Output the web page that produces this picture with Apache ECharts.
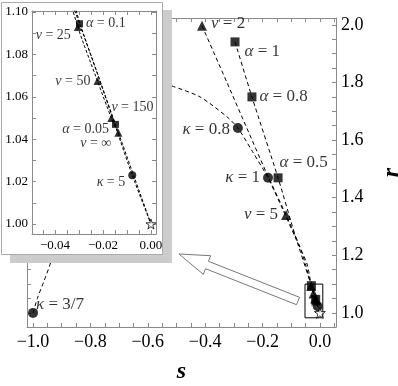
<!DOCTYPE html>
<html>
<head>
<meta charset="utf-8">
<script src="https://cdn.jsdelivr.net/npm/echarts@6/dist/echarts.min.js"></script>
<style>
html, body { margin: 0; padding: 0; background: #fff; }
#chart { width: 398px; height: 386px; }
</style>
</head>
<body>
<div id="chart"></div>
<script>
// dashed curves (s on x, r on y)
var kappaLineS = [-1.0, -0.985, -0.962, -0.941, -0.90, -0.85, -0.78, -0.70, -0.62, -0.56, -0.516, -0.418, -0.324, -0.286, -0.235, -0.181, -0.13, -0.085, -0.045, -0.031, -0.022, -0.0145, -0.0078, 0.0];
var kappaLineR = [1.0, 1.05, 1.11, 1.167, 1.30, 1.44, 1.60, 1.72, 1.79, 1.80, 1.788, 1.750, 1.681, 1.642, 1.56, 1.469, 1.36, 1.26, 1.17, 1.10, 1.07, 1.045, 1.023, 1.0];
var nuLineS = [-0.411, -0.324, -0.254, -0.188, -0.118, -0.07, -0.048, -0.0305, -0.0223, -0.0165, -0.0136];
var nuLineR = [1.997, 1.80, 1.64, 1.49, 1.340, 1.23, 1.16, 1.093, 1.0675, 1.050, 1.043];
var alphaLineS = [-0.296, -0.237, -0.146, -0.087, -0.0298, -0.0148, 0.0];
var alphaLineR = [1.941, 1.750, 1.469, 1.271, 1.0945, 1.047, 1.0];

// labelled points
var nuS = [-0.411, -0.118, -0.0305, -0.0223, -0.0165, -0.0136];
var nuR = [1.997, 1.340, 1.093, 1.0675, 1.050, 1.043];
var nuNames = ['2', '5', '25', '50', '150', '∞'];
var alphaS = [-0.296, -0.237, -0.146, -0.0298, -0.0148];
var alphaR = [1.941, 1.750, 1.469, 1.0945, 1.047];
var alphaNames = ['1', '0.8', '0.5', '0.1', '0.05'];
var kappaS = [-1.0, -0.286, -0.181, -0.0078];
var kappaR = [1.0, 1.642, 1.469, 1.023];
var kappaNames = ['3/7', '0.8', '1', '5'];
var starS = [0.0];
var starR = [1.0];

// ticks
var mainXTicks = [-1.0, -0.8, -0.6, -0.4, -0.2, 0.0];
var mainYTicks = [1.0, 1.2, 1.4, 1.6, 1.8, 2.0];
var insetXTicks = [-0.04, -0.02, 0.0];
var insetYTicks = [1.00, 1.02, 1.04, 1.06, 1.08, 1.10];

// where the labels sit: [position, offset], null = no label
var nuMainPlace = [['right', [1, -2]], ['left', [0, 0]], null, null, null, null];
var nuInsetPlace = [null, null, ['left', [0, 8]], ['left', [0, 0]], ['right', [-7, -11]], ['left', [0, 10]]];
var alphaMainPlace = [['right', [2, 10]], ['right', [0, 0]], ['right', [-6, -15]], null, null];
var alphaInsetPlace = [null, null, null, ['right', [0, 0]], ['left', [0, 5]]];
var kappaMainPlace = [['right', [-5, -8]], ['left', [0, 2]], ['left', [0, 0]], null];
var kappaInsetPlace = [null, null, null, ['left', [0, 7]]];

var FONT = '"Liberation Serif", "DejaVu Serif", serif';
var STAR = 'path://M50,0 L61,35 L98,35 L68,57 L79,91 L50,70 L21,91 L32,57 L2,35 L39,35 Z';

function steps(a, b, st) {
    var out = [];
    var n = Math.round((b - a) / st);
    for (var i = 0; i <= n; i++) out.push(+(a + i * st).toFixed(4));
    return out;
}
function minus(d) {
    return function (v) { return (v < -1e-9 ? '\u2212' : '') + Math.abs(v).toFixed(d); };
}
function pairs(S, R) { return S.map(function (s, i) { return [s, R[i]]; }); }
function pts(S, R, names, places) {
    return S.map(function (s, i) {
        var it = { value: [s, R[i]], name: names[i] };
        if (places && places[i]) it.label = { show: true, position: places[i][0], offset: places[i][1] };
        return it;
    });
}

function frameAxis(grid, pos, min, max, ticks, labels, fmt, size, margin, z) {
    return {
        type: 'value', gridIndex: grid, position: pos, min: min, max: max, z: z,
        axisLine: { show: true, onZero: false, lineStyle: { color: '#8a8a8a', width: 1 } },
        axisTick: { show: true, inside: true, length: 4, customValues: ticks, lineStyle: { color: '#8a8a8a' } },
        axisLabel: labels ? { show: true, customValues: labels, formatter: fmt, color: '#000', fontFamily: FONT, fontSize: size, margin: margin } : { show: false },
        splitLine: { show: false }
    };
}

function lineSeries(xi, S, R, dash, z) {
    return {
        type: 'line', xAxisIndex: xi, yAxisIndex: xi, data: pairs(S, R), smooth: 0.25, symbol: 'none', z: z,
        lineStyle: { color: '#000', width: 1, type: dash }, silent: true, animation: false
    };
}
function markSeries(xi, data, sym, size, greek, fsize, z) {
    return {
        type: 'scatter', xAxisIndex: xi, yAxisIndex: xi, data: data, symbol: sym, symbolSize: size, z: z,
        itemStyle: { color: '#000' }, animation: false,
        label: {
            show: false, color: '#000', fontFamily: FONT, fontSize: fsize, distance: 3,
            formatter: function (p) { return '{g|' + greek + '} = ' + p.name; },
            rich: { g: { fontStyle: 'italic', fontFamily: FONT, fontSize: fsize, color: '#000' } }
        }
    };
}

var chart = echarts.init(document.getElementById('chart'), null, { renderer: 'canvas' });

var mainX = frameAxis(0, 'bottom', -1.021, 0.056, steps(-1.0, 0.05, 0.05), mainXTicks, minus(1), 18, 6, 0);
mainX.name = 's';
mainX.nameLocation = 'middle';
mainX.nameGap = 33;
mainX.nameTextStyle = { fontFamily: FONT, fontSize: 24, fontStyle: 'italic', fontWeight: 'bold', color: '#000' };
var mainY = frameAxis(0, 'right', 0.951, 2.024, steps(1.0, 2.0, 0.05), mainYTicks, minus(1), 18, 5, 0);
mainY.name = 'r';
mainY.nameLocation = 'middle';
mainY.nameGap = 44;
mainY.nameRotate = 90;
mainY.nameTextStyle = { fontFamily: FONT, fontSize: 24, fontStyle: 'italic', fontWeight: 'bold', color: '#000' };

chart.setOption({
    animation: false,
    backgroundColor: '#fff',
    grid: [
        { left: 27, top: 18, width: 309, height: 309, outerBoundsMode: 'none', containLabel: false },
        { left: 32, top: 11, width: 124, height: 223, outerBoundsMode: 'none', containLabel: false }
    ],
    xAxis: [
        mainX,
        frameAxis(0, 'top', -1.021, 0.056, steps(-1.0, 0.05, 0.05), null, null, 0, 0, 0),
        frameAxis(1, 'bottom', -0.0496, 0.0021, steps(-0.045, 0.0, 0.005), insetXTicks, minus(2), 13, 5, 4),
        frameAxis(1, 'top', -0.0496, 0.0021, steps(-0.045, 0.0, 0.005), null, null, 0, 0, 4)
    ],
    yAxis: [
        mainY,
        frameAxis(0, 'left', 0.951, 2.024, steps(1.0, 2.0, 0.05), null, null, 0, 0, 0),
        frameAxis(1, 'left', 0.99528, 1.1005, steps(1.0, 1.10, 0.01), insetYTicks, minus(2), 13, 4, 4),
        frameAxis(1, 'right', 0.99528, 1.1005, steps(1.0, 1.10, 0.01), null, null, 0, 0, 4)
    ],
    graphic: [
        { type: 'rect', z: 3, silent: true, shape: { x: 10, y: 10, width: 162, height: 253 }, style: { fill: '#cccccc' } },
        { type: 'rect', z: 3, silent: true, shape: { x: 1.5, y: 2.5, width: 161, height: 252 }, style: { fill: '#ffffff', stroke: '#aaaaaa', lineWidth: 1 } },
        {
            type: 'polygon', z: 6, silent: true,
            shape: { points: [[179, 254], [210.7, 255.7], [208.5, 261.3], [299.5, 297.3], [296.5, 304.7], [205.5, 268.7], [203.3, 274.3]] },
            style: { fill: '#ffffff', stroke: '#777777', lineWidth: 1 }
        }
    ],
    series: [
        // main panel
        lineSeries(0, kappaLineS, kappaLineR, [4, 3], 2),
        lineSeries(0, nuLineS, nuLineR, [4, 3], 2),
        lineSeries(0, alphaLineS, alphaLineR, [4, 3], 2),
        markSeries(0, pts(nuS, nuR, nuNames, nuMainPlace), 'triangle', 10, 'ν', 17, 2),
        markSeries(0, pts(alphaS, alphaR, alphaNames, alphaMainPlace), 'rect', 9, 'α', 17, 2),
        markSeries(0, pts(kappaS, kappaR, kappaNames, kappaMainPlace), 'circle', 10, 'κ', 17, 2),
        {
            type: 'scatter', xAxisIndex: 0, yAxisIndex: 0, data: pairs(starS, starR), symbol: STAR, symbolSize: 11, z: 2,
            itemStyle: { color: '#fff', borderColor: '#000', borderWidth: 1 }, animation: false,
            markArea: {
                silent: true,
                itemStyle: { color: 'rgba(0,0,0,0)', borderColor: '#000', borderWidth: 1 },
                data: [[{ coord: [-0.052, 1.10] }, { coord: [0.010, 0.983] }]]
            }
        },
        // inset panel
        lineSeries(2, kappaLineS, kappaLineR, [3, 2], 5),
        lineSeries(2, nuLineS, nuLineR, [3, 2], 5),
        lineSeries(2, alphaLineS, alphaLineR, [3, 2], 5),
        markSeries(2, pts(nuS, nuR, nuNames, nuInsetPlace), 'triangle', 8, 'ν', 14, 5),
        markSeries(2, pts(alphaS, alphaR, alphaNames, alphaInsetPlace), 'rect', 7, 'α', 14, 5),
        markSeries(2, pts(kappaS, kappaR, kappaNames, kappaInsetPlace), 'circle', 8, 'κ', 14, 5),
        {
            type: 'scatter', xAxisIndex: 2, yAxisIndex: 2, data: pairs(starS, starR), symbol: STAR, symbolSize: 10, z: 5,
            itemStyle: { color: '#fff', borderColor: '#000', borderWidth: 1 }, animation: false
        }
    ]
});
</script>
</body>
</html>
